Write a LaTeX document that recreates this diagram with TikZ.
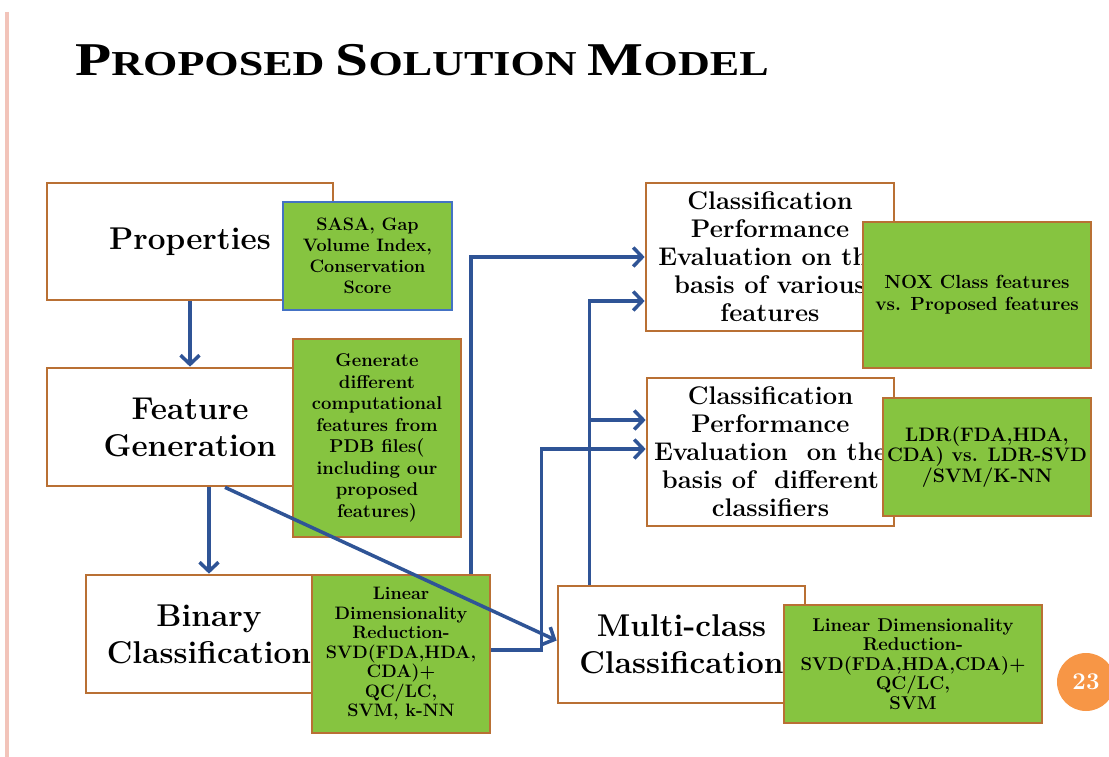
\documentclass[tikz,border=0pt]{standalone}
\usepackage{fontspec}
\usetikzlibrary{arrows.meta}
\newfontfamily\titlefont{Liberation Serif}[FakeStretch=1.26]
\newcommand{\headcap}[1]{{\fontsize{47}{47}\selectfont #1}}

\definecolor{boxbrown}{RGB}{185,112,52}
\definecolor{leafgreen}{RGB}{134,196,64}
\definecolor{edgeblue}{RGB}{68,114,196}
\definecolor{flowblue}{RGB}{47,84,150}
\definecolor{slidepink}{RGB}{242,196,186}
\definecolor{badgeorange}{RGB}{247,150,70}

\begin{document}
\begin{tikzpicture}[x=1pt, y=-1pt,
    plainbox/.style={draw=boxbrown, line width=2.7pt, fill=white, align=center, inner sep=0pt,
        font=\bfseries\fontsize{31.5}{37}\selectfont},
    evalbox/.style={plainbox, font=\bfseries\fontsize{25.5}{28}\selectfont},
    notebox/.style={draw=boxbrown, line width=2.7pt, fill=leafgreen, align=center, inner sep=0pt,
        font=\bfseries\fontsize{18}{19.5}\selectfont},
    flow/.style={draw=flowblue, line width=3.5pt, -{Straight Barb[length=9pt,width=19pt]}}]
    \useasboundingbox (0,0) rectangle (1109,757);

    % Slide decoration and title
    \draw[slidepink, line width=3.5pt] (7,12) -- (7,757);
    \node[anchor=base west, inner sep=0pt] (title) at (75,76)
        {\titlefont\bfseries\fontsize{35}{35}\selectfont
         \headcap{P}ROPOSED \headcap{S}OLUTION \headcap{M}ODEL};

    % Left column
    \node[plainbox, minimum width=286, minimum height=117] (props) at (190,241.5) {Properties};
    \node[notebox, draw=edgeblue, minimum width=169, minimum height=108,
        font=\bfseries\fontsize{18}{21}\selectfont] (sasa) at (367.5,256)
        {SASA, Gap\\Volume Index,\\Conservation\\Score};

    \node[plainbox, minimum width=286, minimum height=118] (feat) at (190,427) {Feature\\Generation};
    \node[notebox, minimum width=168, minimum height=198,
        font=\bfseries\fontsize{18.5}{21.5}\selectfont] (gen) at (377,438)
        {Generate\\different\\computational\\features from\\PDB files(\\including our\\proposed\\features)};

    \node[plainbox, minimum width=246, minimum height=118] (bin) at (209,634) {Binary\\Classification};
    \node[notebox, minimum width=178, minimum height=158] (binldr) at (401,654)
        {Linear\\Dimensionality\\Reduction-\\SVD(FDA,HDA,\\CDA)+\\QC/LC,\\SVM, k-NN};

    \node[plainbox, minimum width=247, minimum height=117] (multi) at (681.5,644.5) {Multi-class\\Classification};
    \node[notebox, minimum width=258, minimum height=118,
        font=\bfseries\fontsize{18.5}{19.5}\selectfont] (multildr) at (913,664)
        {Linear Dimensionality\\Reduction-\\SVD(FDA,HDA,CDA)+\\QC/LC,\\SVM};

    % Right column
    \node[evalbox, minimum width=248, minimum height=148] (eval1) at (770,257)
        {Classification\\Performance\\Evaluation on the\\basis of various\\features};
    \node[notebox, minimum width=228, minimum height=146,
        font=\bfseries\fontsize{19}{22}\selectfont] (nox) at (977,295)
        {NOX Class features\\vs. Proposed features};

    \node[evalbox, minimum width=247, minimum height=148] (eval2) at (770.5,452)
        {Classification\\Performance\\Evaluation\ \ on the\\basis of\ \ different\\classifiers};
    \node[notebox, minimum width=208, minimum height=118,
        font=\bfseries\fontsize{19.5}{17}\selectfont] (ldr) at (987,457)
        {LDR(FDA,HDA,\\CDA) vs. LDR-SVD\\/SVM/K-NN};

    % Page number
    \node[circle, fill=badgeorange, minimum size=58, inner sep=0pt, text=white,
        font=\bfseries\fontsize{24}{24}\selectfont] (page) at (1086,682) {23};

    % Connectors
    \coordinate (riser) at ([xshift=-92pt]multi.north);
    \coordinate (toeval2) at ([yshift=32pt]eval2.west);
    \draw[flow] (props) -- (feat);
    \draw[flow] (bin.north |- feat.south) -- (bin.north);
    \draw[flow] ([xshift=35pt]feat.south) -- ([yshift=4pt]multi.west);
    \draw[flow] ([xshift=70pt]binldr.north) |- (eval1.west);
    \draw[flow] (riser) |- ([yshift=-44pt]eval1.west);
    \draw[flow] (riser |- toeval2) -- (toeval2);
    \draw[flow] ([yshift=4pt]binldr.east) -- ++(50,0) |- ([yshift=3pt]eval2.west);
\end{tikzpicture}
\end{document}
